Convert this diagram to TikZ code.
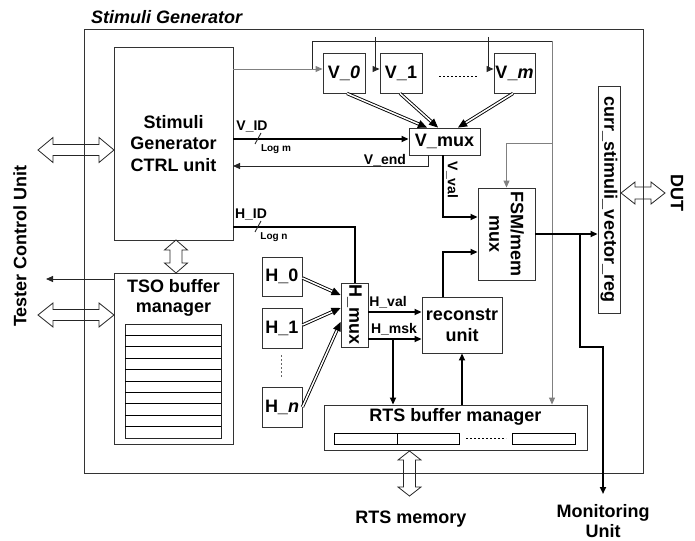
\documentclass[tikz,border=0pt]{standalone}
\usepackage{fontspec}
\setmainfont{Liberation Sans}
\usetikzlibrary{arrows.meta}
\newcommand\hollowH[6]{\draw[hollow] (#1,#3) -- ({#1+#6},{#3-#5}) -- ({#1+#6},{#3-#4}) -- ({#2-#6},{#3-#4}) -- ({#2-#6},{#3-#5}) -- (#2,#3) -- ({#2-#6},{#3+#5}) -- ({#2-#6},{#3+#4}) -- ({#1+#6},{#3+#4}) -- ({#1+#6},{#3+#5}) -- cycle;}
\newcommand\hollowV[6]{\draw[hollow] (#1,#2) -- ({#1+#5},{#2+#6}) -- ({#1+#4},{#2+#6}) -- ({#1+#4},{#3-#6}) -- ({#1+#5},{#3-#6}) -- (#1,#3) -- ({#1-#5},{#3-#6}) -- ({#1-#4},{#3-#6}) -- ({#1-#4},{#2+#6}) -- ({#1-#5},{#2+#6}) -- cycle;}
\begin{document}
\begin{tikzpicture}[x=1pt,y=-1pt,
 every node/.style={inner sep=0pt},
 box/.style 2 args={draw=black!80,line width=0.9pt,minimum width=#1,minimum height=#2,align=center,font=\bfseries\fontsize{18}{21.5}\selectfont},
 txt/.style={align=center,font=\bfseries\fontsize{18}{21.5}\selectfont},
 lbl/.style={font=\bfseries\fontsize{14}{16}\selectfont},
 sml/.style={font=\bfseries\fontsize{10}{12}\selectfont},
 arr/.style={-{Triangle[length=7pt,width=6pt]}},
 thk/.style={line width=2pt},
 thn/.style={line width=0.9pt,draw=black!85},
 gry/.style={line width=0.9pt,draw=black!50},
 dbl/.style={draw=black,line width=0.9pt,double=white,double distance=1.5pt,-{Triangle[length=9pt,width=8pt]}},
 hollow/.style={draw=black!85,line width=0.8pt,line join=miter}]
\useasboundingbox (0,0) rectangle (695,540);

% outer frame and title
\node[box={559pt}{444pt}] (sg) at (363.5,251) {};
\node[anchor=west,font=\bfseries\itshape\fontsize{18}{21}\selectfont] (title) at (91,17) {Stimuli Generator};

% boxes
\node[box={119pt}{193pt}] (ctrl) at (173.5,143.5) {Stimuli\\Generator\\CTRL unit};
\node[box={119pt}{171pt}] (tso) at (173.5,358.5) {};
\node[txt,font=\bfseries\fontsize{18}{19.5}\selectfont] (tsot) at (173.5,298) {TSO buffer\\manager};
\node[draw=black!85,line width=0.9pt,minimum width=96pt,minimum height=114pt] (list) at (173,381) {};
\foreach \i in {1,...,9} \draw[line width=0.9pt] (125,{324+\i*11.4}) -- (221,{324+\i*11.4});

\node[box={42pt}{40pt}] (V0) at (344,73) {V\_\textit{0}};
\node[box={42pt}{40pt}] (V1) at (401,73) {V\_1};
\node[box={41pt}{40pt}] (Vm) at (514.5,73) {V\_\textit{m}};
\draw[line width=0.8pt,dash pattern=on 2pt off 2pt] (439,76) -- (478,76);

\node[box={71pt}{27pt}] (vmux) at (444.5,141.5) {V\_mux};
\node[box={57pt}{92pt}] (fsm) at (506.5,234) {};
\node[txt,rotate=-90] (fsmt) at (fsm.center) {FSM/mem\\mux};
\node[box={22pt}{227pt}] (curr) at (609,199.5) {};
\node[txt,rotate=-90] (currt) at (curr.center) {curr\_stimuli\_vector\_reg};

\node[box={27pt}{64pt}] (hmux) at (354.5,315) {};
\node[txt,rotate=-90] (hmuxt) at (hmux.center) {H\_mux};
\node[box={40pt}{39pt}] (H0) at (282,276.5) {H\_0};
\node[box={40pt}{40pt}] (H1) at (282,328) {H\_1};
\node[box={40pt}{40pt}] (Hn) at (282,407) {H\_\textit{n}};
\draw[line width=0.8pt,draw=black!60,dash pattern=on 2pt off 2pt] (281,355) -- (281,378);

\node[box={80pt}{56pt}] (recon) at (462,325) {reconstr\\unit};

\node[box={263pt}{45pt}] (rts) at (455.5,427.5) {};
\node[txt] (rtst) at (455.5,417) {RTS buffer manager};
\draw[line width=0.9pt] (334,433) rectangle (397,444) (397,433) rectangle (459,444) (512,433) rectangle (575,444);
\draw[line width=0.8pt,dash pattern=on 2pt off 2pt] (466,438) -- (506,438);

% outside texts
\node[txt,rotate=90] (tcu) at (20,246) {Tester Control Unit};
\node[txt,rotate=-90] (dut) at (677,193) {DUT};
\node[txt] (rtsm) at (411,519) {RTS memory};
\node[txt,font=\bfseries\fontsize{18}{20}\selectfont] (monu) at (603,521) {Monitoring\\Unit};

% coordinates
\coordinate (fA) at (312,69);
\coordinate (tl) at (312,41);
\coordinate (tr) at (552,41);
\coordinate (gm) at (552,143);
\coordinate (vid) at (233,139);
\coordinate (vend) at (233,166);
\coordinate (hid) at (233,227);
\coordinate (hval) at (368,312);
\coordinate (hmsk) at (368,339);
\coordinate (hb) at (393,339);
\coordinate (br) at (580,234);
\coordinate (mb) at (603,347);
\coordinate (mon) at (603,494);
\coordinate (tsoa) at (114,279);
\coordinate (tsob) at (46,279);

% FSM/mem control lines
\draw[gry,arr] (ctrl.east |- fA) -- (V0.west |- fA);
\draw[thn] (fA) -- (tl) -- (tr);
\draw[thn,arr] ([xshift=-4pt,yshift=4pt]V1.west |- tl) |- ([yshift=4pt]V1.west);
\draw[thn,arr] ([xshift=-5pt,yshift=4pt]Vm.west |- tl) |- ([yshift=4pt]Vm.west);
\draw[gry,arr] (tr) -- (tr |- rts.north);
\draw[gry,arr] (gm) -| (fsm.north);

% V paths
\draw[dbl] ([xshift=3pt]V0.south) -- ([xshift=-17.5pt]vmux.north);
\draw[dbl] ([xshift=-1pt]V1.south) -- ([xshift=-6.5pt]vmux.north);
\draw[dbl] ([xshift=-1.5pt]Vm.south) -- ([xshift=13.5pt]vmux.north);
\draw[thk,arr] (vid) -- (vid -| vmux.west);
\draw[thn] (255,144) -- (261,133);
\node[lbl] (vidl) at (252,127) {V\_ID};
\node[sml] (logm) at (276,149) {Log m};
\draw[thn,arr] ([xshift=-16.5pt]vmux.south) |- (vend);
\node[lbl] (vendl) at (385,160) {V\_end};
\draw[thk,arr] ([xshift=-1.5pt]vmux.south) |- ([yshift=17pt]fsm.west);
\node[lbl,rotate=-90] (vvall) at (452,180) {V\_val};

% H paths
\draw[thk] (hid) -| (hmux.north);
\draw[thn] (255,232) -- (261,221);
\node[lbl] (hidl) at (251,215) {H\_ID};
\node[sml] (logn) at (274,237) {Log n};
\draw[dbl] ([yshift=-1.5pt]H0.east) -- ([yshift=20pt]hmux.west);
\draw[dbl] ([yshift=3pt]H1.east) -- ([yshift=7pt]hmux.west);
\draw[dbl] (Hn.east) -- ([yshift=-7pt]hmux.west);
\draw[thk,arr] (hval) -- (hval -| recon.west);
\node[lbl] (hvall) at (388,302) {H\_val};
\draw[thk,arr] (hmsk) -- (hmsk -| recon.west);
\node[lbl] (hmskl) at (394,329) {H\_msk};
\draw[thk,arr] (hb) -- (hb |- rts.north);
\draw[thk,arr] (recon.south |- rts.north) -- (recon.south);
\draw[thk,arr] ([xshift=-19pt]recon.north) |- ([yshift=-18pt]fsm.west);

% outputs
\draw[thk,arr] (fsm.east) -- (fsm.east -| curr.west);
\draw[thk,arr] (br) |- (mb) -- (mon);
\draw[thn,arr] (tsoa) -- (tsob);

% hollow double arrows
\hollowH{38}{114}{150}{5.5}{12.5}{15}
\hollowH{38}{114}{315}{5.5}{12}{15}
\hollowH{621}{665}{193}{6}{11}{14}
\hollowV{176}{240}{273}{6}{11.5}{10}
\hollowV{409.5}{451}{496}{6}{11.5}{9}
\end{tikzpicture}
\end{document}
